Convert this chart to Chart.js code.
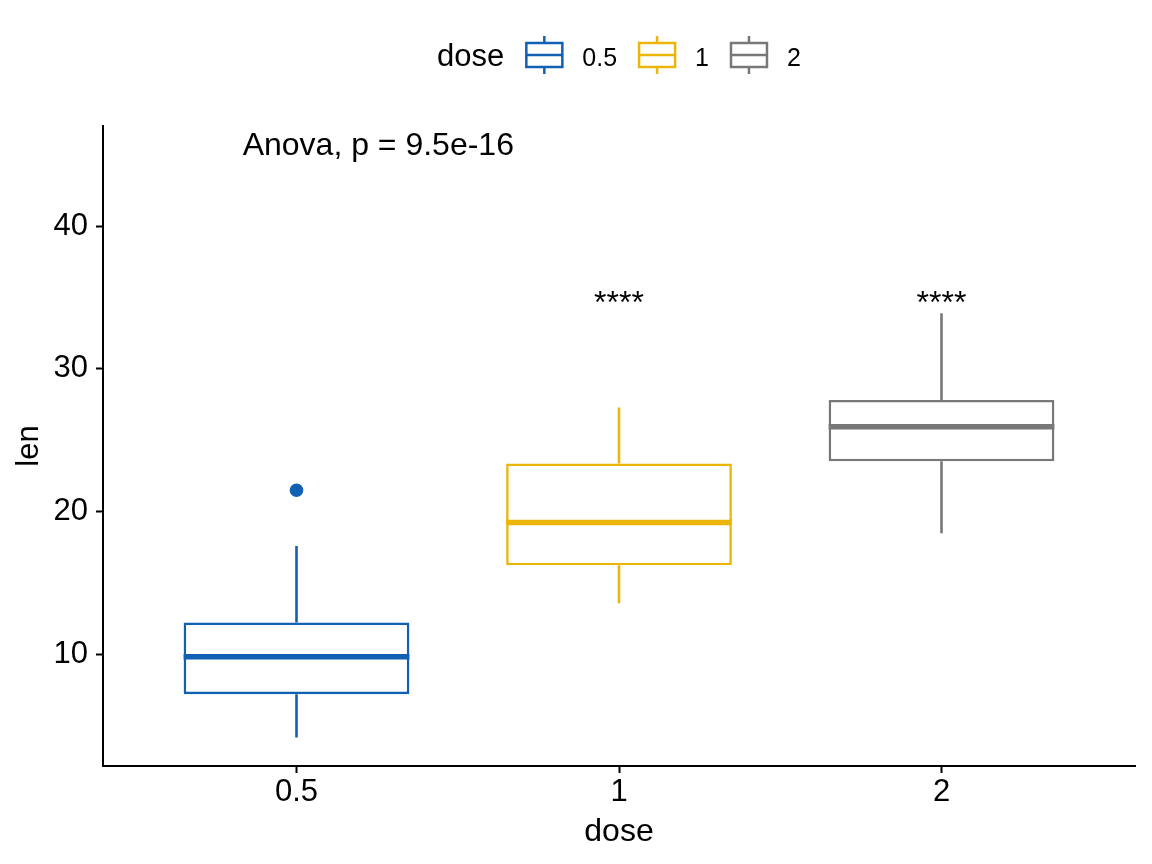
<!DOCTYPE html>
<html><head><meta charset="utf-8">
<script src="https://cdn.jsdelivr.net/npm/chart.js@4.4.1/dist/chart.umd.min.js"></script>
<style>html,body{margin:0;padding:0;background:#fff}#wrap{width:1152px;height:864px}</style>
</head><body><div id="wrap"><canvas id="c" width="1152" height="864"></canvas></div>
<script>
const doses = ['0.5', '1', '2'];
const doseX = [1, 2, 3];
const whiskerLow = [4.2, 13.6, 18.5];
const q1 = [7.225, 16.25, 23.525];
const median = [9.85, 19.25, 25.95];
const q3 = [12.25, 23.375, 27.825];
const whiskerHigh = [17.6, 27.3, 33.9];
const outliers = [[21.5], [], []];
const yTicks = [10, 20, 30, 40];
const sigLabels = ['', '****', '****'];
const sigY = [null, 33.9, 33.9];
const anovaText = 'Anova, p = 9.5e-16';
const anovaAt = [0.833, 45.0];

const colors = ['#1260B4', '#EBB609', '#787878'];
const FONT = '"Liberation Sans", Arial, Helvetica, sans-serif';

const outlierPts = [];
const outlierCols = [];
outliers.forEach((arr, i) => arr.forEach(v => { outlierPts.push({x: doseX[i], y: v}); outlierCols.push(colors[i]); }));

const boxPlugin = {
  id: 'boxParts',
  beforeDatasetsDraw(chart) {
    const {ctx, scales: {x, y}} = chart;
    ctx.save();
    ctx.lineWidth = 2.6;
    ctx.lineCap = 'butt';
    doseX.forEach((d, i) => {
      const px = x.getPixelForValue(d);
      ctx.strokeStyle = colors[i];
      ctx.beginPath();
      ctx.moveTo(px, y.getPixelForValue(whiskerLow[i]));
      ctx.lineTo(px, y.getPixelForValue(q1[i]));
      ctx.moveTo(px, y.getPixelForValue(q3[i]));
      ctx.lineTo(px, y.getPixelForValue(whiskerHigh[i]));
      ctx.stroke();
    });
    ctx.restore();
  },
  afterDatasetsDraw(chart) {
    const {ctx, scales: {x, y}} = chart;
    const meta = chart.getDatasetMeta(0);
    ctx.save();
    meta.data.forEach((bar, i) => {
      const p = bar.getProps(['x', 'width'], true);
      const py = y.getPixelForValue(median[i]);
      ctx.strokeStyle = colors[i];
      ctx.lineWidth = 5.5;
      ctx.beginPath();
      ctx.moveTo(p.x - p.width / 2, py);
      ctx.lineTo(p.x + p.width / 2, py);
      ctx.stroke();
    });
    ctx.fillStyle = '#000';
    ctx.font = '32px ' + FONT;
    ctx.textBaseline = 'alphabetic';
    ctx.textAlign = 'center';
    doseX.forEach((d, i) => {
      if (sigLabels[i]) ctx.fillText(sigLabels[i], x.getPixelForValue(d), y.getPixelForValue(sigY[i]));
    });
    ctx.textAlign = 'left';
    ctx.fillText(anovaText, x.getPixelForValue(anovaAt[0]), y.getPixelForValue(anovaAt[1]));
    ctx.restore();
  }
};

const legendPlugin = {
  id: 'doseLegend',
  afterDraw(chart) {
    const ctx = chart.ctx, ca = chart.chartArea;
    ctx.save();
    const titleFont = '31px ' + FONT, labFont = '25px ' + FONT;
    ctx.font = titleFont;
    const tw = ctx.measureText('dose').width;
    ctx.font = labFont;
    const lw = doses.map(d => ctx.measureText(d).width);
    const iconW = 38, gapTitle = 21, gapIcon = 19, gapItem = 21;
    let total = tw + gapTitle;
    doses.forEach((d, i) => { total += iconW + gapIcon + lw[i] + (i < doses.length - 1 ? gapItem : 0); });
    let xx = (ca.left + ca.right) / 2 - total / 2;
    const baseY = 66, midY = 55;
    ctx.fillStyle = '#000';
    ctx.textBaseline = 'alphabetic';
    ctx.textAlign = 'left';
    ctx.font = titleFont;
    ctx.fillText('dose', xx, baseY);
    xx += tw + gapTitle;
    doses.forEach((d, i) => {
      ctx.strokeStyle = colors[i];
      ctx.lineWidth = 2.5;
      ctx.strokeRect(xx + 1, midY - 12, iconW - 2, 24);
      ctx.beginPath();
      ctx.moveTo(xx + 1, midY); ctx.lineTo(xx + iconW - 1, midY);
      ctx.moveTo(xx + iconW / 2, midY - 19); ctx.lineTo(xx + iconW / 2, midY - 12);
      ctx.moveTo(xx + iconW / 2, midY + 12); ctx.lineTo(xx + iconW / 2, midY + 19);
      ctx.stroke();
      xx += iconW + gapIcon;
      ctx.font = labFont;
      ctx.fillStyle = '#000';
      ctx.fillText(d, xx, baseY);
      xx += lw[i] + gapItem;
    });
    ctx.restore();
  }
};

const gridCommon = { display: true, offset: false, drawOnChartArea: false, drawTicks: true, tickLength: 7, tickWidth: 2, tickColor: '#000' };
const borderCommon = { display: true, color: '#000', width: 2 };

new Chart(document.getElementById('c'), {
  type: 'bar',
  data: {
    datasets: [
      {
        type: 'bar', label: 'box',
        data: doseX.map((d, i) => ({x: d, y: [q1[i], q3[i]]})),
        backgroundColor: '#ffffff', borderColor: colors, borderWidth: 2.6, borderSkipped: false,
        categoryPercentage: 1, barPercentage: 0.7, order: 2
      },
      {
        type: 'scatter', label: 'outliers', data: outlierPts,
        pointBackgroundColor: outlierCols, pointBorderWidth: 0, pointRadius: 6.8, order: 1
      }
    ]
  },
  options: {
    responsive: false, animation: false, devicePixelRatio: 1,
    layout: { padding: { top: 126, right: 17, left: 0, bottom: 0 } },
    plugins: { legend: { display: false }, tooltip: { enabled: false } },
    scales: {
      x: {
        type: 'linear', min: 0.4, max: 3.6, offset: false,
        afterBuildTicks: s => { s.ticks = doseX.map(v => ({value: v})); },
        afterFit: s => { s.height = 98; },
        ticks: { callback: v => { const k = doseX.indexOf(v); return k >= 0 ? doses[k] : ''; },
                 font: { size: 31, family: FONT }, color: '#000', padding: 1, maxRotation: 0, autoSkip: false },
        grid: gridCommon, border: borderCommon,
        title: { display: true, text: 'dose', font: { size: 32, family: FONT }, color: '#000', padding: { top: 0, bottom: 13 } }
      },
      y: {
        type: 'linear', min: 2.2, max: 47.0,
        afterBuildTicks: s => { s.ticks = yTicks.map(v => ({value: v})); },
        afterFit: s => { s.width = 103; },
        ticks: { callback: v => String(v), font: { size: 31, family: FONT }, color: '#000', padding: 8 },
        grid: gridCommon, border: borderCommon,
        title: { display: true, text: 'len', font: { size: 31, family: FONT }, color: '#000', padding: { top: 11, bottom: 0 } }
      }
    }
  },
  plugins: [boxPlugin, legendPlugin]
});
</script>
</body></html>
